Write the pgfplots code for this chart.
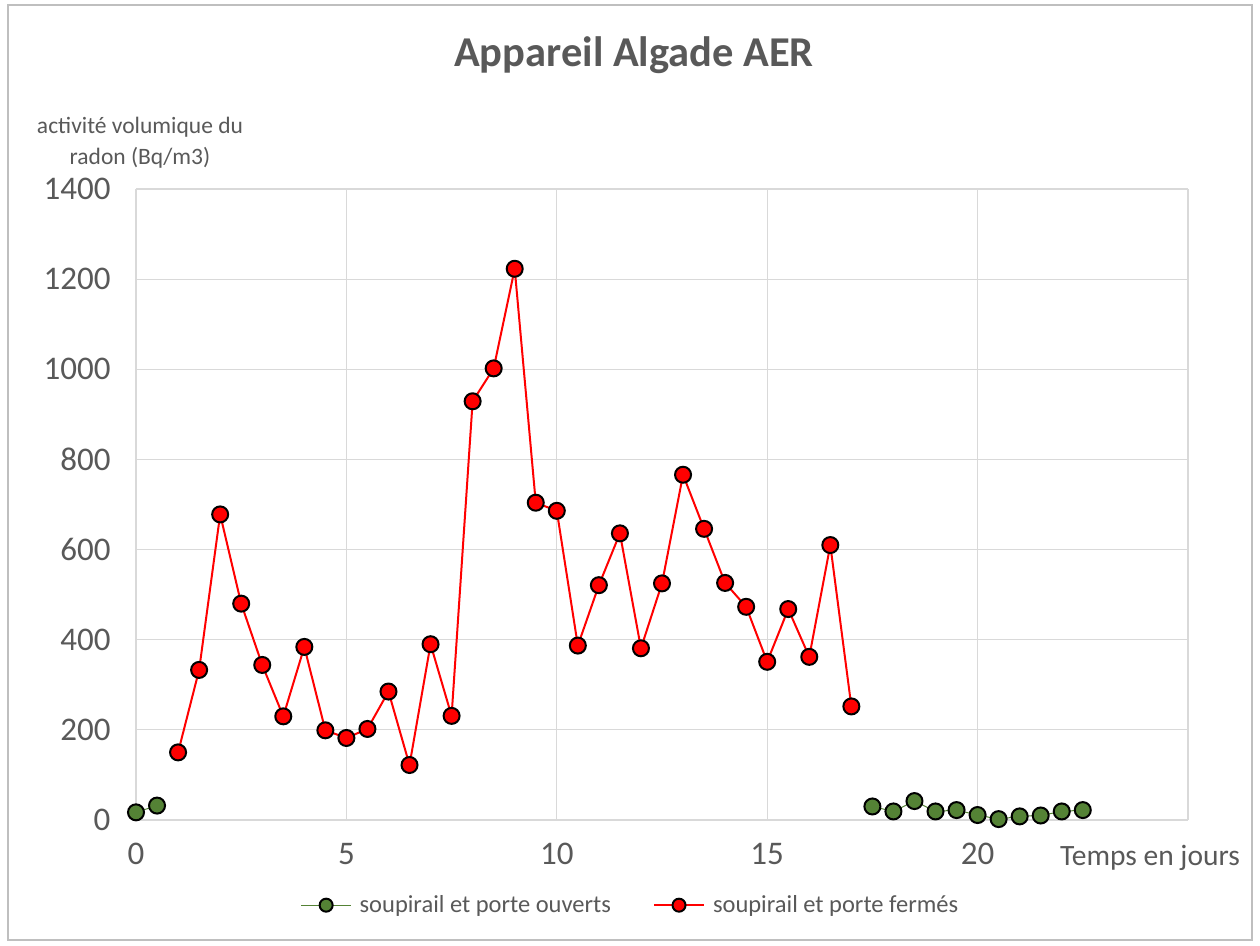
\documentclass[border=0pt]{standalone}
\usepackage{pgfplots}
\pgfplotsset{compat=1.18}
\usepackage{fontspec}
\setmainfont{Carlito}
\definecolor{txt}{HTML}{595959}
\definecolor{gridc}{HTML}{D9D9D9}
\definecolor{frame}{HTML}{BFBFBF}
\definecolor{gr}{HTML}{548235}
\begin{document}
\begin{tikzpicture}[x=1pt,y=1pt]
\path[use as bounding box, fill=white] (0,0) rectangle (1260,945);
\draw[frame, line width=1.2pt] (8,5) rectangle (1252,940);
\node[txt, font=\fontsize{42.5}{50}\selectfont\bfseries] at (634,890) {Appareil Algade AER};
\node[txt, font=\fontsize{23.5}{31}\selectfont, align=center] at (140,802) {activité volumique du\\radon (Bq/m3)};
\node[txt, font=\fontsize{29.5}{34}\selectfont] at (1150,87) {Temps en jours};
\begin{axis}[
  at={(136pt,125pt)}, anchor=south west,
  scale only axis, width=1052pt, height=631pt,
  xmin=0, xmax=25, ymin=0, ymax=1400,
  xtick={0,5,10,15,20,25}, xticklabels={0,5,10,15,20,{}},
  ytick={0,200,...,1400},
  grid=major, major grid style={gridc, line width=1.2pt},
  axis line style={draw=none},
  major tick length=0pt,
  /pgf/number format/assume math mode=true,
  /pgf/number format/1000 sep={},
  ticklabel style={txt, font=\fontsize{33}{36}\selectfont},
  xticklabel style={yshift=-20pt},
  yticklabel style={xshift=-22pt},
  clip=false,
  unbounded coords=jump,
  legend columns=2,
  legend style={at={(0.47,-0.135)}, anchor=center, draw=none, fill=none,
    font=\fontsize{24.5}{28}\selectfont, text=txt,
    /tikz/every odd column/.append style={column sep=6pt},
    /tikz/every even column/.append style={column sep=40pt}},
  legend image code/.code={\draw[mark repeat=2,mark phase=2,#1, mark size=6.5pt] plot coordinates {(0pt,0pt) (25pt,0pt) (50pt,0pt)};},
]
\addplot[gr, line width=1pt, mark=*, mark size=8pt, mark options={fill=gr, draw=black, line width=2pt}]
coordinates {(0,17) (0.5,32) (1,nan) (17.5,30) (18,19) (18.5,42) (19,19) (19.5,22) (20,11) (20.5,2) (21,8) (21.5,10) (22,19) (22.5,22)};
\addlegendentry{soupirail et porte ouverts}
\addplot[red, line width=2pt, mark=*, mark size=8pt, mark options={fill=red, draw=black, line width=2pt}]
coordinates {(1,150) (1.5,333) (2,678) (2.5,480) (3,344) (3.5,230) (4,384) (4.5,199) (5,182) (5.5,202) (6,285) (6.5,122) (7,390) (7.5,231) (8,929) (8.5,1002) (9,1223) (9.5,704) (10,686) (10.5,387) (11,521) (11.5,636) (12,381) (12.5,525) (13,766) (13.5,646) (14,526) (14.5,473) (15,351) (15.5,468) (16,362) (16.5,610) (17,252)};
\addlegendentry{soupirail et porte fermés}
\end{axis}
\end{tikzpicture}
\end{document}
